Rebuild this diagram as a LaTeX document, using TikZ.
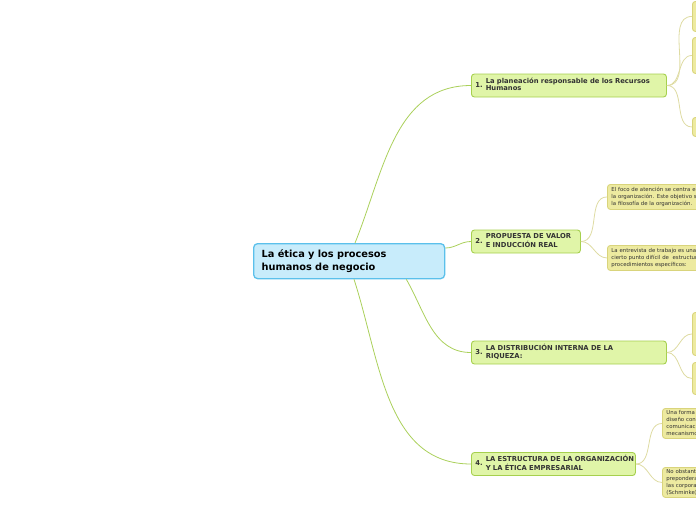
\documentclass[tikz,border=0pt]{standalone}
\usepackage{fontspec}
\setmainfont{DejaVu Sans}
\definecolor{rootfill}{HTML}{C8ECFB}
\definecolor{rootline}{HTML}{5BC0EB}
\definecolor{topfill}{HTML}{E0F5A8}
\definecolor{topline}{HTML}{A6D04E}
\definecolor{topedge}{HTML}{AAD05A}
\definecolor{subfill}{HTML}{EDEAA0}
\definecolor{subline}{HTML}{D9D47C}
\definecolor{subedge}{HTML}{DEDBA2}
\definecolor{ink}{HTML}{333333}
\newcommand{\toplab}[2]{\begin{tabular}{@{}l@{\hspace{3pt}}l@{}}#1&\begin{tabular}[c]{@{}l@{}}#2\end{tabular}\end{tabular}}

\begin{document}
\begin{tikzpicture}[x=1pt,y=-1pt,
  rootbox/.style={draw=rootline,fill=rootfill,line width=1.3pt,rounded corners=4pt,
    anchor=north west,align=left,inner xsep=8pt,text width=175pt,minimum height=35pt,
    font=\fontsize{9.8}{12.5}\selectfont\bfseries},
  topbox/.style={draw=topline,fill=topfill,line width=0.9pt,rounded corners=3pt,
    anchor=west,align=left,inner xsep=4pt,inner ysep=0pt,minimum height=23pt,
    text=ink,font=\fontsize{6.8}{7.8}\selectfont\bfseries},
  subbox/.style={draw=subline,fill=subfill,line width=0.9pt,rounded corners=3pt,
    anchor=north west,align=left,inner xsep=4pt,inner ysep=0pt,text width=150pt,
    text=ink,font=\fontsize{5.4}{7}\selectfont},
  topwire/.style={draw=topedge,line width=0.8pt},
  subwire/.style={draw=subedge,line width=0.8pt}]
  \useasboundingbox (0,0) rectangle (696,520);
  \clip (0,0) rectangle (696,520);

  \node[rootbox] (root) at (253,243) {La ética y los procesos\\humanos de negocio};

  \node[topbox,text width=187pt] (n1) at (471,85.5)
    {\toplab{1.}{La planeación responsable de los Recursos\\Humanos}};
  \node[topbox,text width=101pt] (n2) at (471,241.5)
    {\toplab{2.}{PROPUESTA DE VALOR\\E INDUCCIÓN REAL}};
  \node[topbox,text width=187pt] (n3) at (471,352.5)
    {\toplab{3.}{LA DISTRIBUCIÓN INTERNA DE LA\\RIQUEZA:}};
  \node[topbox,text width=156pt] (n4) at (471,464)
    {\toplab{4.}{LA ESTRUCTURA DE LA ORGANIZACIÓN\\Y LA ÉTICA EMPRESARIAL}};

  % hojas del punto 1
  \node[subbox,minimum height=30pt] (n1a) at (692,1) {};
  \node[subbox,minimum height=36pt] (n1b) at (692,37) {};
  \node[subbox,minimum height=19pt] (n1c) at (692,117) {};
  % hojas del punto 2
  \node[subbox,minimum height=25pt] (n2a) at (607,184)
    {El foco de atención se centra en\\la organización. Este objetivo se\\la filosofía de la organización.};
  \node[subbox,minimum height=25pt] (n2b) at (607,245)
    {La entrevista de trabajo es una\\cierto punto difícil de~ estructurar\\procedimientos específicos:};
  % hojas del punto 3
  \node[subbox,minimum height=43pt] (n3a) at (692,312) {};
  \node[subbox,minimum height=32pt] (n3b) at (692,362) {};
  % hojas del punto 4
  \node[subbox,minimum height=30pt] (n4a) at (662,408)
    {Una forma\\diseño con\\comunicación\\mecanismos};
  \node[subbox,minimum height=30pt] (n4b) at (662,467)
    {No obstante\\preponderante\\las corporaciones\\(Schminke)};

  \path[topwire] ([xshift=102pt]root.north west) to[out=68,in=180] (n1.west);
  \path[topwire] ([yshift=-5pt]root.north east) to[out=0,in=180] (n2.west);
  \path[topwire] ([xshift=-39pt]root.south east) to[out=-60,in=180] (n3.west);
  \path[topwire] ([xshift=101pt]root.south west) to[out=-72,in=180] (n4.west);

  \foreach \kid in {n1a,n1b,n1c}
    \path[subwire] (n1.east) to[out=0,in=180] (\kid.west);
  \foreach \kid in {n2a,n2b}
    \path[subwire] (n2.east) to[out=0,in=180] (\kid.west);
  \foreach \kid in {n3a,n3b}
    \path[subwire] (n3.east) to[out=0,in=180] (\kid.west);
  \foreach \kid in {n4a,n4b}
    \path[subwire] (n4.east) to[out=0,in=180] (\kid.west);
\end{tikzpicture}
\end{document}
